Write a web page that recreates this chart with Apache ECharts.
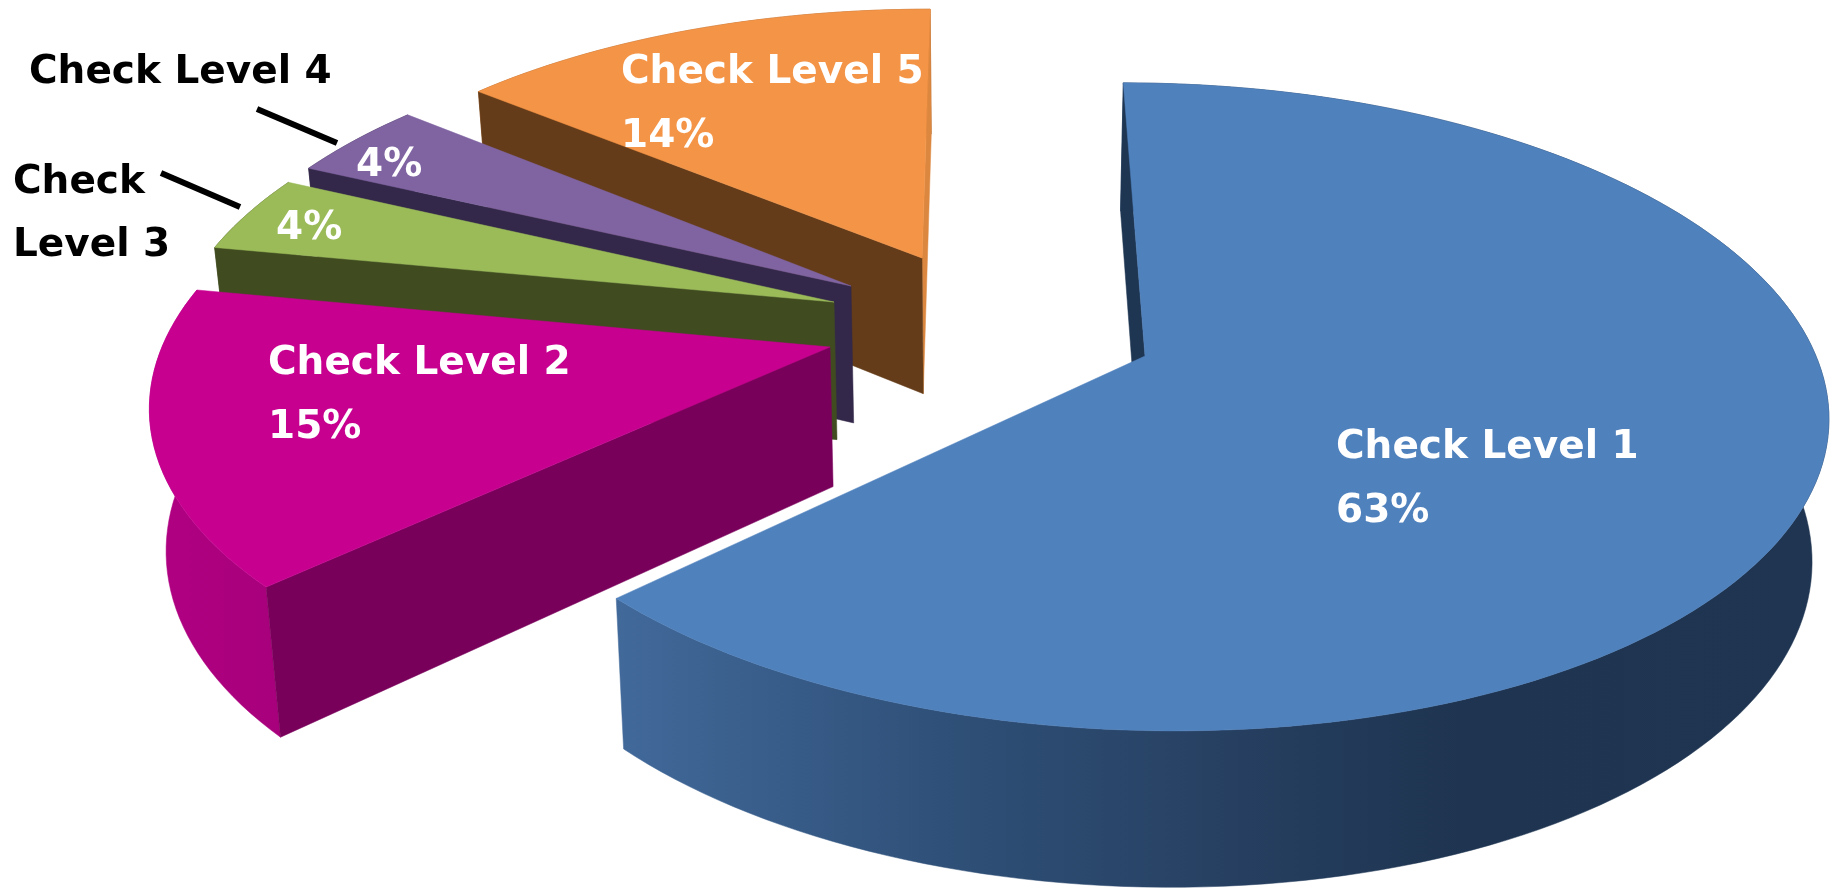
<!DOCTYPE html>
<html>
<head>
<meta charset="utf-8">
<style>html,body{margin:0;padding:0;background:#fff}#chart{width:1835px;height:888px}</style>
<script src="https://cdn.jsdelivr.net/npm/echarts@6/dist/echarts.min.js"></script>
</head>
<body>
<div id="chart"></div>
<script>
// Share of checks per level, clockwise from twelve o'clock.
const categories = ['Check Level 1', 'Check Level 2', 'Check Level 3', 'Check Level 4', 'Check Level 5'];
const shares = [63, 15, 4, 4, 14];

// Colours per slice: top face, leading cut face, trailing cut face, outer rim.
const topColors = ['#4f81bd', '#c70090', '#9bbb59', '#8064a2', '#f49447'];
const cutColors = ['#1f3652', '#79005a', '#404c20', '#332849', '#643c19'];
const trailColors = ['#1f3652', '#79005a', '#404c20', '#332849', '#dc873f'];
const rimColors = [
  [[0, '#41699a'], [0.27, '#2f5078'], [0.52, '#263f60'], [0.7, '#1e3450'], [1, '#1f3551']],
  [[0, '#b00082'], [1, '#a8007c']],
  [[0, '#404c20'], [1, '#404c20']],
  [[0, '#332849'], [1, '#332849']],
  [[0, '#9c5a24'], [1, '#9c5a24']]
];

// Where each slice's tip lands on the page, and its stacking rank.
const tips = [[1145, 356], [830, 347], [834, 302], [851, 286], [922, 258]];
const ranks = [5, 4, 3, 2, 1];

// White captions on the slices: [x, y of first line, show name].
const captions = [[1336, 448, true], [268, 364, true], [276, 229, false], [356, 166, false], [621, 73, true]];
const lineGap = 64;
// Black captions outside the small slices, with their leader strokes.
const outerCaptions = [
  { lines: ['Check', 'Level 3'], x: 13, y: 183, gap: 63, stroke: [[161, 173], [240, 207]] },
  { lines: ['Check Level 4'], x: 29, y: 73, gap: 0, stroke: [[257, 109], [337, 143]] }
];

// Perspective camera for the pie plane.
const vanishX = 985, horizonY = -1657, planeH = 2013, foreshorten = 0.157;
const radiusX = 671, arcStep = 1.5;
const captionFont = 'bold 39px "DejaVu Sans"';

function scaleAt(depth) { return 1 / (1 - foreshorten * depth); }

function tipToPlane(tip) {
  const p = (tip[1] - horizonY) / planeH;
  return { wx: (tip[0] - vanishX) / p, wy: (1 - 1 / p) / foreshorten };
}

// Top-surface point of a slice at a clockwise angle (degrees) and radius fraction.
function surface(plane, deg, r) {
  const a = deg * Math.PI / 180;
  const p = scaleAt(plane.wy - r * Math.cos(a));
  return { x: vanishX + (plane.wx + r * radiusX * Math.sin(a)) * p, y: horizonY + planeH * p, p };
}
function upper(pt) { return [pt.x, pt.y]; }
// The same point dropped to the underside of the pie.
function lower(pt) { return [pt.x + (vanishX - pt.x) * 0.02, pt.y + 52 + 88 * pt.p]; }

function signedArea(pts) {
  let s = 0;
  for (let i = 0; i < pts.length; i++) {
    const q = pts[(i + 1) % pts.length];
    s += pts[i][0] * q[1] - q[0] * pts[i][1];
  }
  return s;
}

function poly(points, fill, z2) {
  return { type: 'polygon', shape: { points }, style: { fill, stroke: fill, lineWidth: 0.5 }, z2, silent: true };
}

function renderSlice(params, api) {
  const i = params.dataIndex;
  const total = shares.reduce((a, b) => a + b, 0);
  let from = 0;
  for (let k = 0; k < i; k++) from += shares[k];
  const start = from / total * 360;
  const end = start + api.value(0) / total * 360;
  const plane = tipToPlane(tips[i]);
  const base = ranks[i] * 10;

  const arc = [];
  const steps = Math.max(2, Math.ceil((end - start) / arcStep));
  for (let s = 0; s <= steps; s++) arc.push(surface(plane, start + (end - start) * s / steps, 1));
  const tip = surface(plane, 0, 0);

  const children = [];
  const rim = arc.map(upper).concat(arc.map(lower).reverse());
  children.push(poly(rim, new echarts.graphic.LinearGradient(0, 0, 1, 0,
    rimColors[i].map(s => ({ offset: s[0], color: s[1] }))), base + 1));

  // Only the cut faces turned towards the viewer are drawn.
  const first = arc[0], last = arc[arc.length - 1];
  const startCut = [upper(tip), upper(first), lower(first), lower(tip)];
  const endCut = [upper(last), upper(tip), lower(tip), lower(last)];
  if (signedArea(endCut) < 0) children.push(poly(endCut, trailColors[i], base + 2));
  if (signedArea(startCut) < 0) children.push(poly(startCut, cutColors[i], base + 3));

  children.push(poly([upper(tip)].concat(arc.map(upper)), topColors[i], base + 4));

  const cap = captions[i];
  const lines = cap[2] ? [categories[i], api.value(0) + '%'] : [api.value(0) + '%'];
  lines.forEach((text, n) => {
    children.push({
      type: 'text', z2: 100, silent: true,
      style: {
        text, x: cap[0], y: cap[1] + n * lineGap, font: captionFont, fill: '#ffffff',
        textAlign: 'left', textVerticalAlign: 'middle',
        shadowColor: 'rgba(0,0,0,0.6)', shadowBlur: 2, shadowOffsetX: 2, shadowOffsetY: 2
      }
    });
  });
  return { type: 'group', children };
}

const outerGraphics = [];
outerCaptions.forEach(c => {
  c.lines.forEach((text, n) => outerGraphics.push({
    type: 'text', silent: true,
    style: { text, x: c.x, y: c.y + n * c.gap, font: captionFont, fill: '#000000', textAlign: 'left', textVerticalAlign: 'middle' }
  }));
  outerGraphics.push({
    type: 'line', silent: true,
    shape: { x1: c.stroke[0][0], y1: c.stroke[0][1], x2: c.stroke[1][0], y2: c.stroke[1][1] },
    style: { stroke: '#000000', lineWidth: 6 }
  });
});

const chart = echarts.init(document.getElementById('chart'), null, { renderer: 'canvas' });
chart.setOption({
  animation: false,
  backgroundColor: '#ffffff',
  graphic: { elements: outerGraphics },
  series: [{
    type: 'custom',
    coordinateSystem: 'none',
    renderItem: renderSlice,
    data: shares.map(v => [v])
  }]
});
</script>
</body>
</html>
